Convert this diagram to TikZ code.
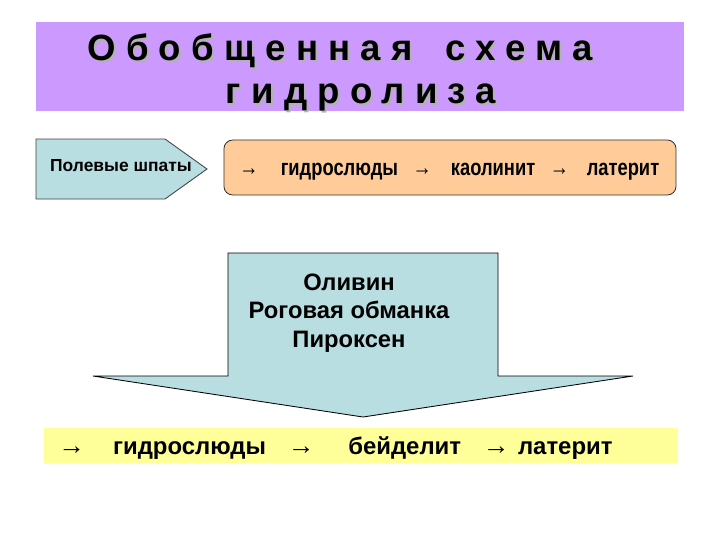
\documentclass[tikz,border=0pt]{standalone}
\usepackage{fontspec}
\setmainfont{Liberation Sans}
\newfontfamily\spacedfont[LetterSpace=28]{Liberation Sans}
\newfontfamily\narrowfont[FakeStretch=0.8]{Liberation Sans}
\usetikzlibrary{positioning}

\definecolor{titlepurple}{HTML}{CC99FF}
\definecolor{boxblue}{HTML}{B8DEE1}
\definecolor{boxorange}{HTML}{FFCC99}
\definecolor{boxyellow}{HTML}{FFFF99}

% thin arrow between the minerals
\newcommand{\rarr}[1]{{\mdseries\fontsize{#1}{#1}\selectfont →}}

\begin{document}
\begin{tikzpicture}[
    x=0.025cm, y=-0.025cm,
    panel/.style={rectangle, inner sep=0pt},
    titletxt/.style={anchor=base, inner sep=0pt,
        font=\spacedfont\bfseries\fontsize{26}{30}\selectfont},
    titleshade/.style={titletxt, text=black!30},
    mineral/.style={line width=0.6pt, draw=black!75, fill=boxblue},
    chaintxt/.style={anchor=base west, inner sep=0pt,
        font=\narrowfont\bfseries\fontsize{16.3}{20}\selectfont},
    bigtxt/.style={inner sep=0pt, align=center,
        font=\bfseries\fontsize{16.9}{20.5}\selectfont},
]
\useasboundingbox (0,0) rectangle (720,540);

% -- title --
\node[panel, fill=titlepurple, minimum width=16.2cm, minimum height=2.225cm] (title) at (360,66.5) {};
\node[titleshade] (shade1) at (342,62) {Обобщенная\hspace{0.9em}схема};
\node[titleshade] (shade2) at (363,105) {гидролиза};
\node[titletxt] (title1) at (340,60) {Обобщенная\hspace{0.9em}схема};
\node[titletxt] (title2) at (361,103) {гидролиза};

% -- feldspar row --
\draw[mineral] (36,139) -- (165,139) -- (207,169) -- (165,199) -- (36,199) -- cycle;
\node[anchor=base, inner sep=0pt, font=\bfseries\fontsize{12.4}{14}\selectfont] (feldspar) at (121,171) {Полевые шпаты};
\node[panel, draw=black!80, line width=0.6pt, fill=boxorange, rounded corners=0.22cm,
      minimum width=11.3cm, minimum height=1.375cm] (clayrow) at (450,167.5) {};
\node[chaintxt] (claytxt) at (239,175)
    {\rarr{17}\hspace{15.9pt}гидрослюды\hspace{10.4pt}\rarr{17}\hspace{13.6pt}каолинит\hspace{10.4pt}\rarr{17}\hspace{12.6pt}латерит};

% -- big arrow --
\draw[mineral, draw=black] (228,253) -- (498,253) -- (498,376) -- (633,376)
    -- (363,417) -- (93,376) -- (228,376) -- cycle;
\node[bigtxt] (sources) at (349,313) {Оливин\\Роговая обманка\\Пироксен};

% -- lower row --
\node[panel, fill=boxyellow, minimum width=15.85cm, minimum height=0.875cm] (lowrow) at (361,445.5) {};
\node[anchor=base west, inner sep=0pt, font=\bfseries\fontsize{17}{20}\selectfont] (lowtxt) at (58,454)
    {\rarr{19}\hspace{20pt}гидрослюды\hspace{15.5pt}\rarr{19}\hspace{24pt}бейделит\hspace{15.5pt}\rarr{19}\hspace{6pt}латерит};

\end{tikzpicture}
\end{document}
